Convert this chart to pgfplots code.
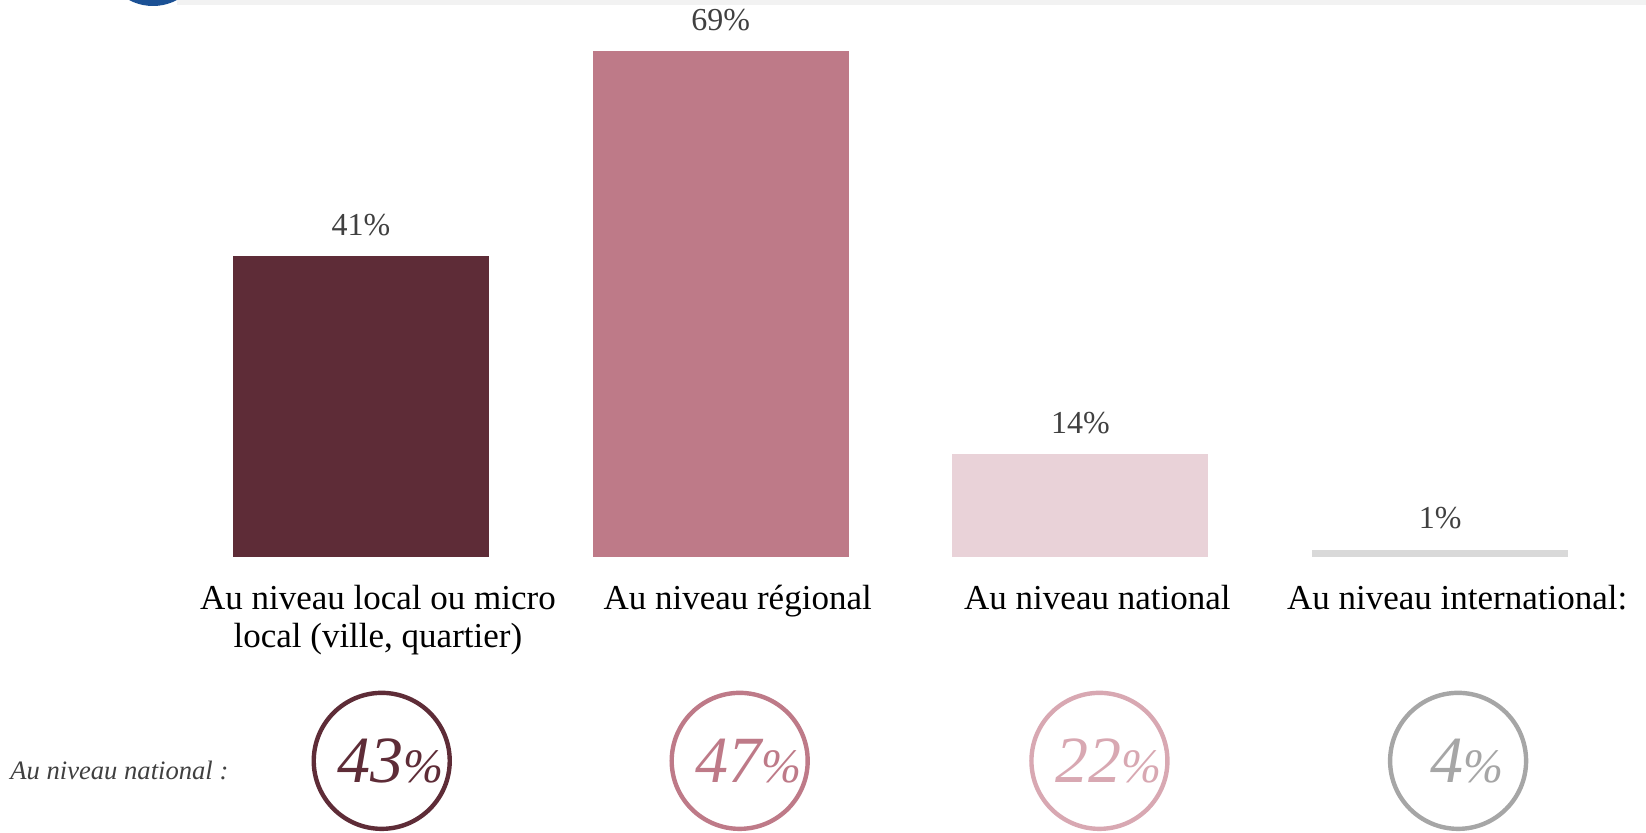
\documentclass[border=0pt]{standalone}
\usepackage{fontspec}
\setmainfont{Liberation Serif}
\usepackage{pgfplots}
\pgfplotsset{compat=1.18}
\definecolor{c1}{HTML}{5E2C37}
\definecolor{c2}{HTML}{BE7A88}
\definecolor{c3}{HTML}{E9D2D8}
\definecolor{c4}{HTML}{D9D9D9}
\definecolor{k3}{HTML}{D8A8B2}
\definecolor{k4}{HTML}{A6A6A6}
\definecolor{txt}{HTML}{404040}
\definecolor{blu}{HTML}{1B5195}
\definecolor{band}{HTML}{F2F2F2}
\newcommand{\circtext}[1]{\hspace{9pt}{\fontsize{33}{33}\selectfont\itshape #1}{\fontsize{24}{24}\selectfont\itshape\%}}
\begin{document}
\begin{tikzpicture}
\useasboundingbox (0,0) rectangle (823pt,416pt);
\begin{scope}
\clip (0,0) rectangle (823pt,416pt);
\fill[band] (88.5pt,413.5pt) rectangle (823pt,416pt);
\fill[blu] (76.5pt,438.5pt) circle[radius=25.5pt];
\end{scope}
\begin{axis}[
  at={(90.5pt,137.5pt)}, anchor=south west,
  scale only axis, width=719.5pt, height=256.65pt,
  xmin=-0.5, xmax=3.5, ymin=0, ymax=70,
  axis line style={draw=none},
  ytick=\empty, xtick={0,1,2,3}, major tick length=0pt,
  xticklabels={{Au niveau local ou micro\\local (ville, quartier)},{Au niveau régional},{Au niveau national},{Au niveau international:}},
  xticklabel style={font=\fontsize{17.5}{18.9}\selectfont, align=center, anchor=north, inner sep=0pt, yshift=-13.8pt, xshift=8.5pt, text=black},
  ybar, bar width=128pt, clip=false,
  /pgf/number format/assume math mode=true,
  nodes near coords={\pgfmathprintnumber{\pgfplotspointmeta}\%},
  every node near coord/.append style={font=\fontsize{16}{16}\selectfont, text=txt, anchor=base, yshift=10.5pt},
]
\addplot[fill=c1, draw=none, bar shift=0pt] coordinates {(0,41)};
\addplot[fill=c2, draw=none, bar shift=0pt] coordinates {(1,69)};
\addplot[fill=c3, draw=none, bar shift=0pt] coordinates {(2,14)};
\addplot[fill=c4, draw=none, bar shift=0pt] coordinates {(3,1)};
\node[circle, draw=c1, line width=2.2pt, minimum size=68pt, inner sep=0pt, text=c1] at (axis cs:0.058,-27.8) {\circtext{43}};
\node[circle, draw=c2, line width=2.2pt, minimum size=68pt, inner sep=0pt, text=c2] at (axis cs:1.053,-27.8) {\circtext{47}};
\node[circle, draw=k3, line width=2.2pt, minimum size=68pt, inner sep=0pt, text=k3] at (axis cs:2.053,-27.8) {\circtext{22}};
\node[circle, draw=k4, line width=2.2pt, minimum size=68pt, inner sep=0pt, text=k4] at (axis cs:3.05,-27.8) {\circtext{4}};
\end{axis}
\node[anchor=west, inner sep=0pt, font=\fontsize{13.3}{15}\selectfont\itshape, text=txt] at (5pt,31pt) {Au niveau national :};
\end{tikzpicture}
\end{document}
